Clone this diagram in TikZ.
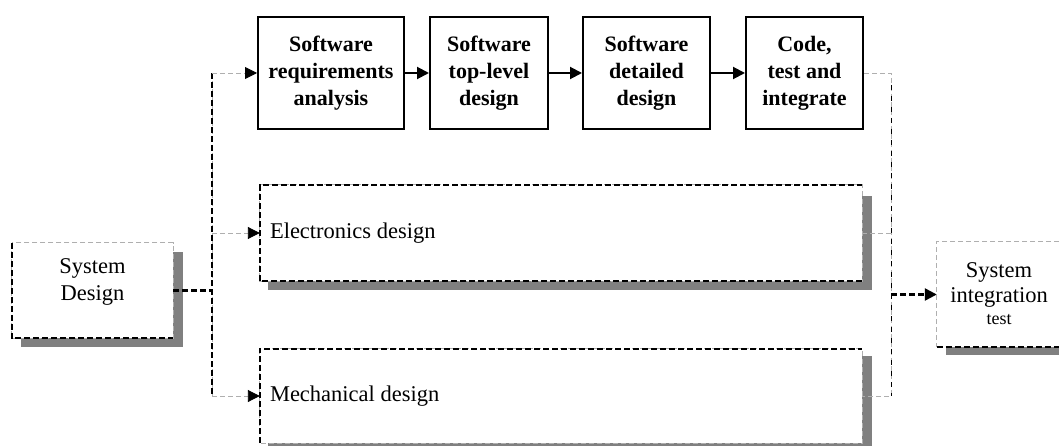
\documentclass[tikz,border=0pt]{standalone}
\usepackage{fontspec}
\setmainfont{Liberation Serif}
\usetikzlibrary{arrows.meta,backgrounds}
\definecolor{shadowgray}{RGB}{128,128,128}
\definecolor{thingray}{RGB}{175,175,175}
\newcommand{\regfont}{\fontsize{22.5}{27}\selectfont}
\newcommand{\swfont}{\fontsize{22}{27}\selectfont\bfseries}
\begin{document}
\begin{tikzpicture}[x=1pt,y=-1pt,
  plainbox/.style={draw=none, fill=white, inner sep=0pt},
  swbox/.style={draw, line width=2pt, fill=white, inner sep=0pt, minimum height=112pt, align=center, font=\swfont},
  bdash/.style={line width=2.4pt, dash pattern=on 6pt off 3pt},
  gdash/.style={line width=0.9pt, draw=thingray, dash pattern=on 5pt off 3pt},
  vthin/.style={line width=1pt, draw=black, dash pattern=on 5pt off 6pt},
  tip/.style={-{Triangle[length=12pt,width=12pt]}},
  gtip/.style={-{Triangle[length=12pt,width=12pt,fill=black,color=black]}},
  shadowc/.style={fill=shadowgray, draw=none},
  txt/.style={font=\regfont, inner sep=0pt, align=center}
]
\useasboundingbox (0,0) rectangle (1059,446);
\clip (0,0) rectangle (1059,446);

% boxes
\node[plainbox, minimum width=161pt, minimum height=95pt] (SD) at (92.5,290.5) {};
\node[plainbox, minimum width=602pt, minimum height=96pt] (EL) at (561,233) {};
\node[plainbox, minimum width=602pt, minimum height=94pt] (ME) at (561,396) {};
\node[plainbox, minimum width=130pt, minimum height=105pt] (IT) at (1002,294.5) {};

\node[swbox, minimum width=146pt] (SR) at (331,73) {Software\\requirements\\analysis};
\node[swbox, minimum width=118pt] (TL) at (489,73) {Software\\top-level\\design};
\node[swbox, minimum width=127pt] (DD) at (646.5,73) {Software\\detailed\\design};
\node[swbox, minimum width=117pt] (CT) at (804.5,73) {Code,\\test and\\integrate};

% shadows
\begin{scope}[on background layer]
  \fill[shadowc] ([shift={(9,9)}]SD.north west) rectangle ([shift={(10,9)}]SD.south east);
  \fill[shadowc] ([shift={(8,11)}]EL.north west) rectangle ([shift={(10,9)}]EL.south east);
  \fill[shadowc] ([shift={(8,7)}]ME.north west) rectangle ([shift={(10,9)}]ME.south east);
  \fill[shadowc] ([shift={(9,8)}]IT.north west) rectangle ([shift={(10,8)}]IT.south east);
\end{scope}

% borders
\draw[gdash] (SD.north west) rectangle (SD.south east);
\draw[bdash] (SD.north west) -- (SD.south west) -- (SD.south east);
\draw[gdash] (EL.north west) rectangle (EL.south east);
\draw[bdash] (EL.south east) -- (EL.south west) -- (EL.north west) -- (EL.north east);
\draw[gdash] (ME.north west) rectangle (ME.south east);
\draw[bdash] (ME.south west) -- (ME.north west) -- (ME.north east);
\draw[gdash] (IT.north east) -- (IT.north west) -- (IT.south west);
\draw[bdash] (IT.south west) -- (IT.south east);

% texts
\node[txt] (SDt) at (92.5,282) {System\\Design};
\node[txt, anchor=west] (ELt) at ([xshift=10pt]EL.west) {Electronics design};
\node[txt, anchor=west] (MEt) at ([xshift=10pt]ME.west) {Mechanical design};
\node[txt, font=\fontsize{22.5}{25}\selectfont] (ITt) at (999,285) {System\\integration};
\node[txt, font=\fontsize{18}{20}\selectfont] (ITs) at (999,320) {test};

% left distribution
\coordinate (jt) at (212,73);
\coordinate (jb) at (212,396);
\draw[gdash] (jt) -- (jb);
\draw[bdash] (jt) -- (jb);
\draw[bdash] (SD.east) -- (SD.east -| jt);
\draw[gdash, gtip] (jt) -- (SR.west);
\draw[gdash, gtip] (jt |- EL.west) -- (EL.west);
\draw[gdash, gtip] (jb) -- (ME.west);

% software chain
\draw[line width=2pt, tip] (SR.east) -- (TL.west);
\draw[line width=2pt, tip] (TL.east) -- (DD.west);
\draw[line width=2pt, tip] (DD.east) -- (CT.west);

% right collection
\coordinate (rt) at (891,73);
\coordinate (rb) at (891,396);
\draw[gdash] (CT.east) -- (rt) -- (rb) -- (ME.east);
\draw[vthin] ([yshift=-12pt]rt) -- (rb);
\draw[gdash] (EL.east) -- (EL.east -| rt);
\draw[bdash, tip] (IT.west -| rt) -- (IT.west);
\end{tikzpicture}
\end{document}
